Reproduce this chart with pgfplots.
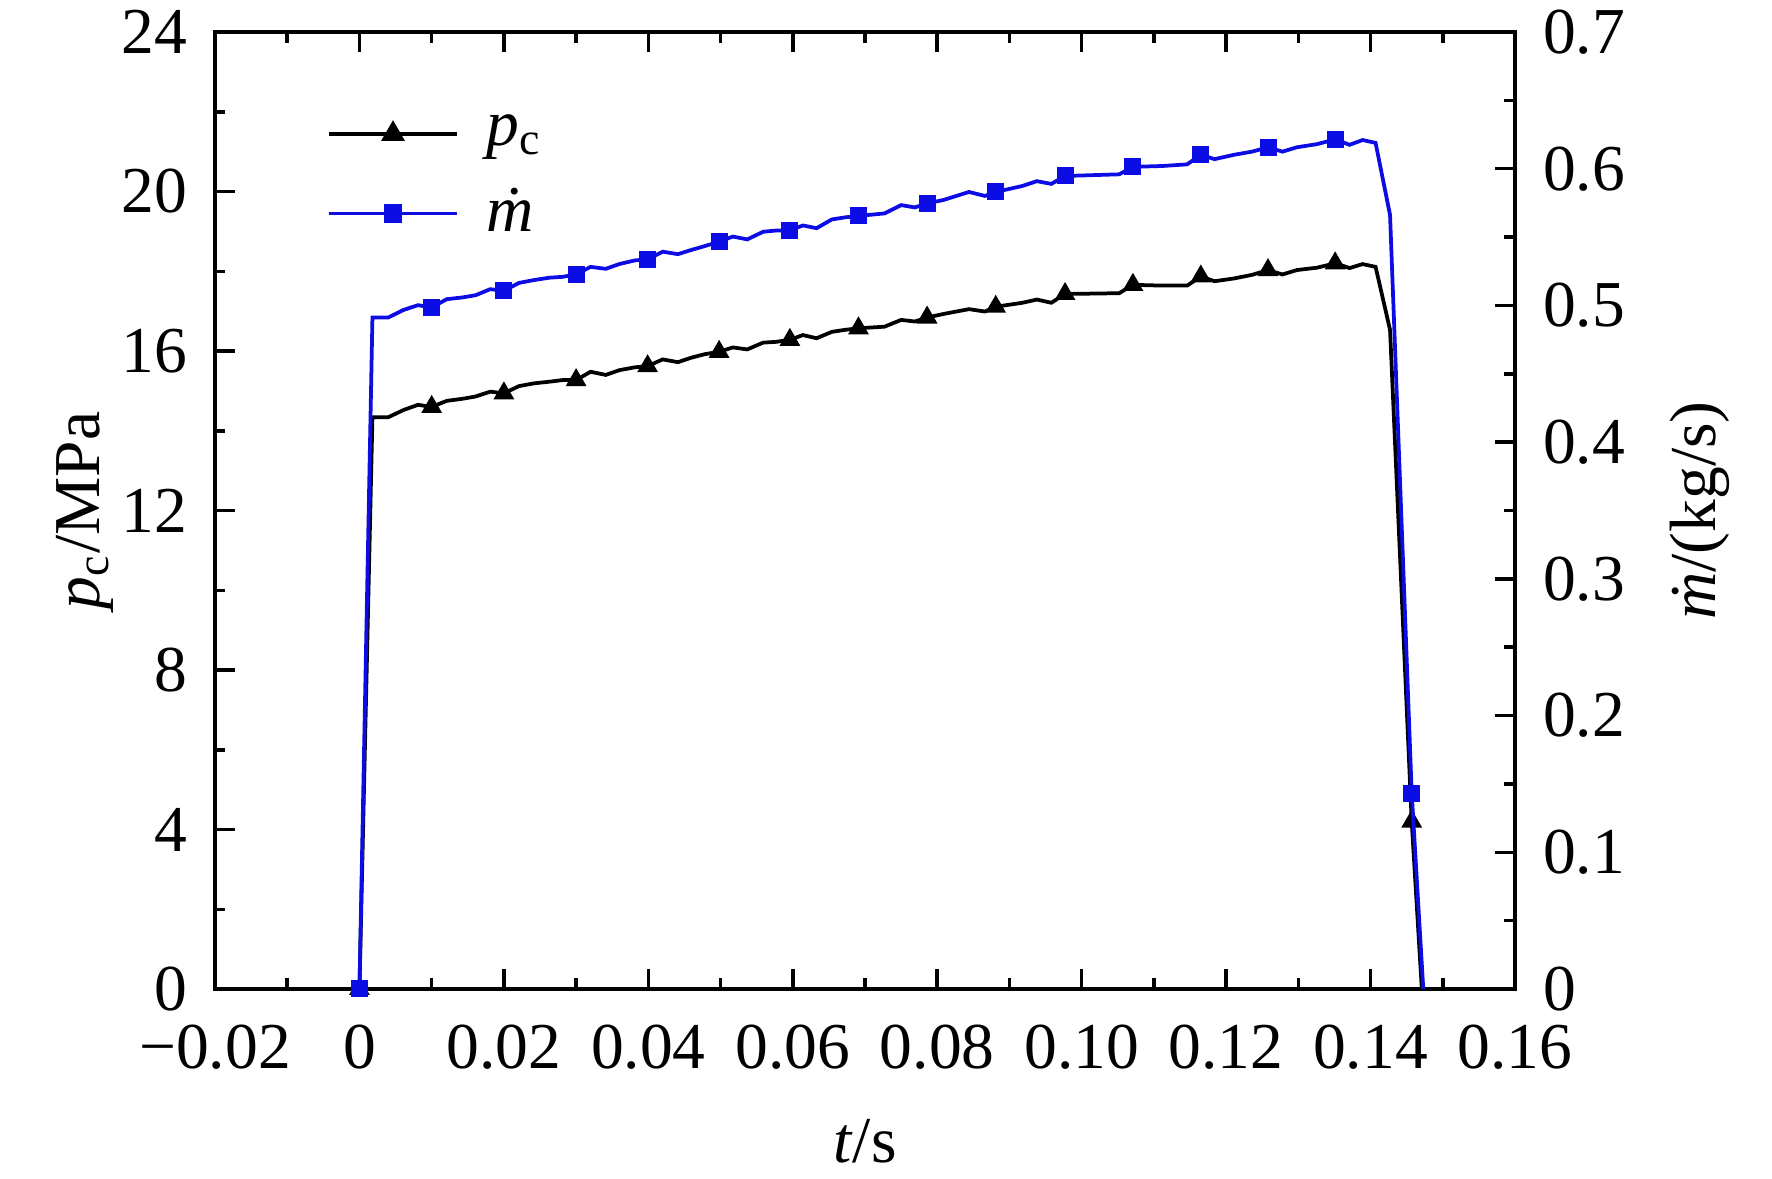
\documentclass[border=0pt]{standalone}
\usepackage{fontspec}
\setmainfont{Liberation Serif}
\usepackage{pgfplots}
\pgfplotsset{compat=1.18}
\definecolor{myblue}{RGB}{12,12,228}
\newcommand{\fs}{\fontsize{13.1}{15}\selectfont}
\begin{document}
\begin{tikzpicture}
\pgfplotsset{
  common/.style={
    at={(0,0)}, anchor=south west,
    scale only axis, width=260pt, height=191.4pt,
    xmin=-0.02, xmax=0.16,
    tick align=inside,
    major tick length=4pt, minor tick length=2.1pt,
    every tick/.style={black, line width=0.7pt},
    axis line style={line width=0.85pt},
    tick label style={font=\fs, inner sep=0pt},
    label style={font=\fs},
  }
}
\begin{axis}[common,
  ymin=0, ymax=24,
  xtick={-0.02,0,0.02,0.04,0.06,0.08,0.10,0.12,0.14,0.16},
  xticklabels={−0.02,0,0.02,0.04,0.06,0.08,0.10,0.12,0.14,0.16},
  xticklabel style={yshift=-7pt},
  minor x tick num=1,
  ytick={0,4,8,12,16,20,24},
  yticklabels={0,4,8,12,16,20,24},
  yticklabel style={xshift=-5.4pt},
  minor y tick num=1,
  xtick pos=both, ytick pos=left,
  xlabel={\textit{t}/s},
  ylabel={\textit{p}\textsubscript{c}/MPa},
  xlabel style={at={(axis description cs:0.5,0)}, anchor=center, yshift=-30.4pt},
  ylabel style={at={(axis description cs:-0.1,0.5)}, anchor=center},
]
\addplot[black, line width=0.75pt, forget plot] table {
0 0
0.0018 14.34
0.0040 14.34
0.0061 14.52
0.0081 14.65
0.0100 14.60
0.0121 14.75
0.0142 14.80
0.0161 14.86
0.0181 14.98
0.0200 14.94
0.0221 15.12
0.0242 15.19
0.0263 15.23
0.0281 15.27
0.0300 15.27
0.0320 15.48
0.0341 15.40
0.0360 15.52
0.0381 15.59
0.0399 15.62
0.0420 15.79
0.0441 15.72
0.0459 15.83
0.0478 15.92
0.0498 15.98
0.0517 16.09
0.0537 16.04
0.0559 16.21
0.0577 16.23
0.0596 16.28
0.0614 16.40
0.0633 16.32
0.0654 16.48
0.0672 16.53
0.0691 16.57
0.0727 16.61
0.0750 16.78
0.0769 16.74
0.0786 16.84
0.0809 16.93
0.0844 17.05
0.0866 16.99
0.0881 17.11
0.0918 17.21
0.0938 17.29
0.0958 17.21
0.0977 17.43
0.1052 17.45
0.1071 17.66
0.1112 17.64
0.1146 17.64
0.1165 17.87
0.1184 17.75
0.1211 17.82
0.1236 17.91
0.1258 18.03
0.1278 17.92
0.1298 18.03
0.1326 18.09
0.1351 18.20
0.1371 18.08
0.1389 18.18
0.1407 18.11
0.1427 16.53
0.1457 4.2
0.1471 0
};
\addplot[black, only marks, mark=triangle*, mark size=2pt, forget plot] table {
0 0
0.0100 14.60
0.0200 14.94
0.0300 15.27
0.0399 15.62
0.0498 15.98
0.0596 16.28
0.0691 16.57
0.0786 16.84
0.0881 17.11
0.0977 17.43
0.1071 17.66
0.1165 17.87
0.1258 18.03
0.1351 18.20
0.1457 4.2
};
\end{axis}
\begin{axis}[common,
  ymin=0, ymax=0.7,
  xtick=\empty,
  ytick={0,0.1,0.2,0.3,0.4,0.5,0.6,0.7},
  yticklabels={0,0.1,0.2,0.3,0.4,0.5,0.6,0.7},
  yticklabel style={xshift=5.4pt},
  minor y tick num=1,
  ytick pos=right, yticklabel pos=right,
  ylabel={\textit{ṁ}/(kg/s)},
  ylabel style={at={(axis description cs:1.1423,0.5)}, anchor=center},
  legend style={draw=none, fill=none, at={(axis description cs:0.0855,0.925)}, anchor=north west,
    font=\fs, row sep=3pt, column sep=3.5pt, inner sep=0pt, cells={anchor=west}},
  legend image code/.code={\draw[mark repeat=2,mark phase=2,#1] plot coordinates {(0pt,0pt) (12.8pt,0pt) (25.6pt,0pt)};},
]
\addlegendimage{black, line width=0.75pt, mark=triangle*, mark size=2pt}
\addlegendentry{\textit{p}\textsubscript{c}}
\addlegendimage{myblue, line width=0.75pt, mark=square*, mark size=1.5pt}
\addlegendentry{\textit{ṁ}}
\addplot[myblue, line width=0.75pt, forget plot] table {
0 0
0.0018 0.4912
0.0040 0.4912
0.0061 0.4967
0.0081 0.5002
0.0100 0.4985
0.0121 0.5046
0.0142 0.5058
0.0161 0.5075
0.0181 0.5119
0.0200 0.5107
0.0221 0.5165
0.0242 0.5186
0.0263 0.5203
0.0281 0.5209
0.0300 0.5227
0.0320 0.5282
0.0341 0.5268
0.0360 0.5303
0.0381 0.5329
0.0399 0.5338
0.0420 0.5393
0.0441 0.5375
0.0459 0.5405
0.0478 0.5434
0.0498 0.5466
0.0517 0.5504
0.0537 0.5483
0.0559 0.5539
0.0577 0.5548
0.0596 0.5550
0.0614 0.5585
0.0633 0.5565
0.0654 0.5629
0.0672 0.5644
0.0691 0.5655
0.0727 0.5673
0.0750 0.5734
0.0769 0.5717
0.0786 0.5746
0.0809 0.5772
0.0844 0.5830
0.0866 0.5801
0.0881 0.5830
0.0918 0.5874
0.0938 0.5909
0.0958 0.5889
0.0977 0.5947
0.1052 0.5959
0.1071 0.6014
0.1112 0.6020
0.1146 0.6032
0.1165 0.6102
0.1184 0.6070
0.1211 0.6102
0.1236 0.6125
0.1258 0.6157
0.1278 0.6125
0.1298 0.6157
0.1326 0.6180
0.1351 0.6215
0.1371 0.6175
0.1389 0.6210
0.1407 0.6189
0.1427 0.5661
0.1457 0.1432
0.1473 0
};
\addplot[myblue, only marks, mark=square*, mark size=1.5pt, forget plot] table {
0 0
0.0100 0.4985
0.0200 0.5107
0.0300 0.5227
0.0399 0.5338
0.0498 0.5466
0.0596 0.5550
0.0691 0.5655
0.0786 0.5746
0.0881 0.5830
0.0977 0.5947
0.1071 0.6014
0.1165 0.6102
0.1258 0.6157
0.1351 0.6215
0.1457 0.1432
};
\end{axis}
\pgfresetboundingbox
\path (-43pt,-38pt) rectangle (311.4pt,197.8pt);
\end{tikzpicture}
\end{document}
